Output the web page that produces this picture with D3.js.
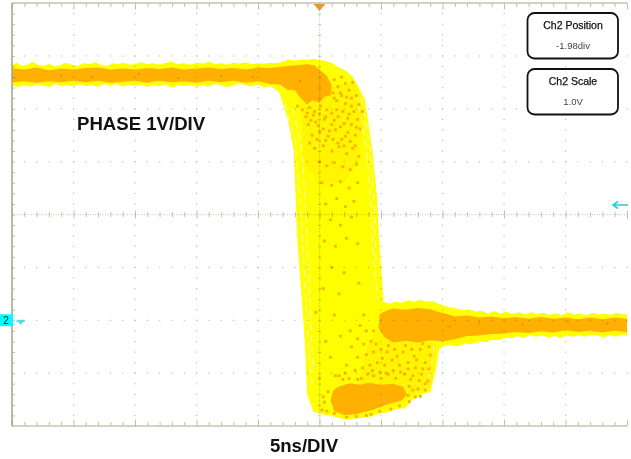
<!DOCTYPE html>
<html>
<head>
<meta charset="utf-8">
<script src="https://cdn.jsdelivr.net/npm/d3@7"></script>
<style>
html, body { margin: 0; padding: 0; background: #fff; }
svg { display: block; }
text { font-family: "Liberation Sans", Arial, sans-serif; }
</style>
</head>
<body>
<div id="scope"></div>
<script>
// time in ns from the trigger, level in volts from the channel 2 ground
const timeDomain = [-25, 25];
const voltDomain = [-2, 6];
const gridTimes = [-20, -15, -10, -5, 0, 5, 10, 15, 20];
const gridVolts = [-1, 0, 1, 2, 3, 4, 5];

// outline of all the captured traces (yellow persistence)
const envelopeUpper = [
  [-25, 4.83], [-24.6, 4.87], [-24.2, 4.81], [-23.7, 4.84], [-23.3, 4.89], [-22.9, 4.83], [-22.4, 4.81], [-22, 4.85], [-21.5, 4.80], [-21, 4.83],
  [-20.6, 4.87], [-20.1, 4.83], [-19.7, 4.81], [-19.2, 4.86], [-18.7, 4.84], [-18.2, 4.88], [-17.8, 4.83], [-17.3, 4.81], [-16.8, 4.86], [-16.4, 4.84],
  [-15.9, 4.87], [-15.4, 4.83], [-15, 4.85], [-14.5, 4.88], [-14, 4.84], [-13.5, 4.86], [-13, 4.83], [-12.5, 4.87], [-12, 4.89], [-11.5, 4.84],
  [-11, 4.86], [-10.5, 4.83], [-10, 4.87], [-9.5, 4.85], [-9, 4.89], [-8.5, 4.84], [-8, 4.86], [-7.5, 4.83], [-7, 4.87], [-6.5, 4.85],
  [-6, 4.88], [-5.5, 4.84], [-5, 4.86], [-4.5, 4.85], [-4, 4.87], [-3.5, 4.86], [-3, 4.89], [-2.5, 4.93], [-2, 4.91], [-1.5, 4.93], [-1, 4.92],
  [-0.5, 4.94], [0, 4.92], [0.5, 4.90], [1, 4.87], [1.5, 4.79], [2.1, 4.73], [2.7, 4.60], [3.2, 4.40], [3.7, 4.17], [4.3, 3.22], [4.7, 2.27], [4.8, 1.71], [5.2, 0.35],
  [5.7, 0.31], [6.2, 0.35], [6.7, 0.33], [7.2, 0.38], [7.7, 0.35], [8.2, 0.39], [8.7, 0.35], [9.2, 0.36], [9.7, 0.31], [10.2, 0.27], [10.7, 0.24], [11.2, 0.22],
  [11.7, 0.19], [12.2, 0.21], [12.7, 0.16], [13.2, 0.18], [13.7, 0.13], [14.2, 0.17], [14.7, 0.13], [15.2, 0.16], [15.7, 0.12], [16.2, 0.15], [16.7, 0.11],
  [17.2, 0.15], [17.7, 0.12], [18.2, 0.14], [18.7, 0.10], [19.2, 0.13], [19.7, 0.10], [20.2, 0.15], [20.7, 0.11], [21.2, 0.13], [21.7, 0.09], [22.2, 0.14],
  [22.7, 0.11], [23.2, 0.13], [23.7, 0.10], [24.2, 0.14], [24.7, 0.11], [25, 0.13]
];
const envelopeLower = [
  [25, -0.30], [24.6, -0.27], [24.1, -0.31], [23.6, -0.28], [23.1, -0.32], [22.6, -0.29], [22.1, -0.27], [21.6, -0.31], [21.1, -0.28], [20.6, -0.31],
  [20.1, -0.29], [19.6, -0.33], [19.1, -0.30], [18.6, -0.32], [18.1, -0.29], [17.6, -0.31], [17.1, -0.28], [16.6, -0.33], [16.1, -0.30], [15.6, -0.34],
  [15.1, -0.33], [14.6, -0.38], [14.1, -0.37], [13.6, -0.41], [13, -0.40], [12.4, -0.45], [11.8, -0.44], [11.2, -0.49], [10.5, -0.47], [10, -0.50], [9.7, -0.56], [9.5, -0.90],
  [9, -1.36], [8.3, -1.40], [7.5, -1.51], [7, -1.66], [6.3, -1.68], [5.5, -1.74], [4.7, -1.78], [4, -1.83], [3, -1.86], [2, -1.87], [1, -1.81], [0, -1.77], [-0.5, -1.73],
  [-1, -1.41], [-1.2, -0.37], [-1.8, 1.52], [-2.1, 3.22], [-2.6, 3.83], [-3.3, 4.32], [-4, 4.43], [-4.5, 4.40], [-5, 4.46], [-5.5, 4.42], [-6, 4.44], [-6.5, 4.48],
  [-7, 4.44], [-7.5, 4.41], [-8, 4.45], [-8.5, 4.47], [-9, 4.42], [-9.5, 4.45], [-10, 4.41], [-10.5, 4.46], [-11, 4.43], [-11.5, 4.45], [-12, 4.40], [-12.5, 4.46],
  [-13, 4.43], [-13.5, 4.46], [-14, 4.41], [-14.5, 4.46], [-15, 4.43], [-15.5, 4.46], [-16, 4.42], [-16.5, 4.47], [-17, 4.44], [-17.5, 4.47], [-18, 4.41],
  [-18.5, 4.45], [-19, 4.43], [-19.5, 4.47], [-20, 4.42], [-20.5, 4.45], [-21, 4.43], [-21.5, 4.47], [-22, 4.41], [-22.5, 4.44], [-23, 4.46], [-23.5, 4.42],
  [-24, 4.45], [-24.5, 4.41], [-25, 4.44]
];

// dense part of the persistence (orange)
const highCore = [
  [-25, 4.76], [-24, 4.74], [-23, 4.78], [-22, 4.73], [-21, 4.76], [-20, 4.74], [-19, 4.77], [-18, 4.78], [-17, 4.74], [-16, 4.76], [-15, 4.74], [-14, 4.77],
  [-13, 4.75], [-12, 4.78], [-11, 4.74], [-10, 4.76], [-9, 4.78], [-8, 4.75], [-7, 4.77], [-6, 4.74], [-5, 4.78], [-4, 4.77], [-3, 4.80], [-2, 4.82], [-1, 4.84], [-0.4, 4.82],
  [0.1, 4.72], [0.6, 4.62], [1, 4.44], [0.9, 4.25], [0.4, 4.22], [0, 4.12], [-0.6, 4.16], [-1, 4.08], [-1.6, 4.22], [-2, 4.35], [-2.6, 4.36], [-3.2, 4.46], [-4, 4.47],
  [-5, 4.52], [-6, 4.49], [-7, 4.53], [-8, 4.50], [-9, 4.53], [-10, 4.49], [-11, 4.52], [-12, 4.50], [-13, 4.53], [-14, 4.49], [-15, 4.53], [-16, 4.51], [-17, 4.49],
  [-18, 4.53], [-19, 4.50], [-20, 4.53], [-21, 4.50], [-22, 4.52], [-23, 4.49], [-24, 4.52], [-25, 4.50]
];
const plateauCore = [
  [4.9, 0.12], [5.4, 0.18], [6, 0.22], [7, 0.20], [8, 0.23], [9, 0.21], [9.6, 0.16], [10.2, 0.13], [11, 0.07], [12, 0.09], [13, 0.05], [14, 0.07], [15, 0.04], [16, 0.06], [17, 0.03],
  [18, 0.06], [19, 0.03], [20, 0.05], [21, 0.02], [22, 0.05], [23, 0.02], [24, 0.05], [25, 0.03],
  [25, -0.22], [24, -0.20], [23, -0.23], [22, -0.20], [21, -0.22], [20, -0.19], [19, -0.23], [18, -0.21], [17, -0.24], [16, -0.22], [15, -0.25], [14, -0.26], [13, -0.29], [12, -0.30],
  [11, -0.36], [10, -0.40], [9, -0.38], [8, -0.42], [7, -0.39], [6, -0.42], [5.3, -0.32], [4.8, -0.15]
];
const lowCore = [
  [1.1, -1.33], [1.6, -1.25], [2.5, -1.19], [3.3, -1.22], [4, -1.18], [5, -1.22], [6, -1.20], [6.8, -1.26], [7.1, -1.40], [6.7, -1.52], [5.7, -1.58], [5, -1.64], [4.2, -1.70], [3, -1.78],
  [2, -1.79], [1.2, -1.72], [0.9, -1.52]
];
const midHaze = [
  [4.7, -0.2], [9.5, -0.45], [9.1, -1.25], [7, -1.5], [6.5, -1.2], [3.2, -1.2], [4, -0.4]
];
const fallHaze = [
  [-1.6, 4.3], [0, 4.4], [3, 4.5], [3.6, 3.9], [3.2, 3.0], [2, 2.6], [0, 2.6], [-1.3, 3.0]
];

// streaks of white left between single traces on the falling edge
const traceA = [[-2.8, 4.1], [-2.0, 3.4], [-1.5, 2.0], [-1.2, 0.8], [-0.9, -0.5], [-0.6, -1.2]];
const traceB = [[-2.2, 4.0], [-1.4, 3.2], [-1.05, 1.8], [-0.8, 0.4], [-0.5, -1.0]];
const traceC = [[3.0, 4.3], [3.8, 3.3], [4.15, 2.3], [4.35, 1.2], [4.75, 0.4]];
const traceD = [[3.4, 4.2], [4.15, 3.2], [4.5, 2.0], [4.6, 1.0]];
const traceE = [[9.3, -0.5], [9.1, -0.9], [8.6, -1.3]];

// single orange hits
const hitsFall = [
  [-1.3, 4.2], [-0.8, 4.02], [-0.4, 3.95], [0.1, 4.05], [0.6, 3.98], [1.2, 4.2], [1.7, 4.3], [2.1, 4.1], [2.6, 4.2], [3.0, 4.25],
  [-0.9, 3.7], [-0.3, 3.75], [0.4, 3.8], [1, 3.7], [1.5, 3.85], [2, 3.72], [2.4, 3.9], [3.1, 3.8], [3.5, 3.95], [-0.6, 3.5],
  [0, 3.55], [0.7, 3.48], [1.3, 3.6], [1.8, 3.42], [2.3, 3.55], [2.9, 3.5], [3.3, 3.62], [-0.4, 3.25], [0.3, 3.3], [1, 3.2],
  [1.6, 3.28], [2.2, 3.15], [2.7, 3.25], [3.2, 3.1], [0, 3.0], [0.6, 2.92], [1.2, 2.98], [1.9, 2.9], [2.5, 2.85], [3, 2.95],
  [0.2, 2.6], [1, 2.55], [1.7, 2.62], [2.4, 2.5], [3.1, 2.6], [0.5, 2.2], [1.4, 2.3], [2.1, 2.15], [2.8, 2.25], [0.9, 1.9],
  [1.7, 1.8], [2.6, 1.95], [0.4, 1.5], [1.3, 1.4], [2.2, 1.55], [3.1, 1.45], [1, 1.0], [2, 0.9], [0.3, 0.6], [1.6, 0.5], [3.2, 0.7]
];
const hitsBulge = [
  [1.2, 4.55], [1.5, 4.42], [1.8, 4.6], [2.1, 4.48], [2.4, 4.35], [2.7, 4.5], [1.1, 4.3], [1.4, 4.15], [1.8, 4.25], [2.2, 4.22], [2.6, 4.05],
  [-1.8, 4.05], [-1.4, 3.98], [-1, 3.92], [-0.5, 3.88], [0, 3.9], [0.5, 3.85], [1, 3.92], [1.4, 3.98], [1.9, 3.95], [2.3, 3.82], [2.8, 3.95],
  [3.2, 4.08], [-1.1, 3.85], [-0.7, 3.78], [-0.1, 3.68], [0.3, 3.62], [0.8, 3.58], [1.2, 3.78], [1.7, 3.66], [2.1, 3.48], [2.6, 3.7], [3, 3.65],
  [-0.8, 3.35], [-0.2, 3.42], [0.5, 3.4], [1.1, 3.42], [1.5, 3.35], [2, 3.3], [2.5, 3.38], [2.9, 3.3]
];
const hitsLow = [
  [3.6, 0.1], [3.3, -0.1], [3.8, -0.2], [3.1, -0.35], [3.6, -0.45], [4.2, -0.4], [2.6, -0.5], [3.1, -0.7], [3.8, -0.65], [4.4, -0.6],
  [5, -0.55], [5.5, -0.6], [6.1, -0.55], [6.8, -0.6], [7.5, -0.55], [8.2, -0.55], [8.9, -0.5], [2.2, -0.85], [2.9, -0.95], [3.5, -0.9],
  [4.1, -0.85], [4.7, -0.8], [5.3, -0.85], [5.9, -0.75], [6.5, -0.85], [7.2, -0.8], [7.9, -0.75], [8.6, -0.8], [1.6, -1.05], [2.4, -1.1],
  [3.4, -1.1], [4.4, -1.05], [5.0, -1.1], [5.6, -1.02], [6.2, -1.1], [6.9, -1.02], [7.6, -1.05], [8.3, -1.02], [8.8, -1.15], [7.3, -1.25],
  [8, -1.3], [8.6, -1.32], [7.2, -1.42], [7.8, -1.45], [0.4, -1.55], [0.7, -1.35], [0.2, -1.7], [1.3, -1.05], [0.9, -0.7], [1.7, -0.3],
  [2.5, -0.2], [1.2, 0.1], [0, -1.1], [0.5, -0.4], [-0.3, 0.15],
  [4.4, -0.2], [4.6, -0.45], [5.1, -0.72], [5.6, -0.48], [6.3, -0.68], [7, -0.48], [7.7, -0.68], [8.4, -0.44], [9.0, -0.66], [4.3, -0.95],
  [4.9, -0.98], [5.4, -1.0], [6, -0.95], [6.6, -0.98], [7.2, -0.92], [7.8, -0.9], [8.4, -0.92], [8.9, -0.92], [3.9, -1.02], [3.1, -1.12],
  [7.4, -1.12], [8.1, -1.14], [8.6, -1.2], [7.6, -1.32], [8.2, -1.44], [7.3, -1.54], [6.5, -1.62], [5.8, -1.68], [4.9, -1.72], [4.2, -1.78],
  [1.9, -1.12], [2.1, -1.0], [0.6, -1.72], [0.3, -1.45], [3, -1.82], [2.2, -1.83], [1.2, -1.76], [3.8, -1.8]
];
const hotHits = [
  [-21, 4.63], [-18.5, 4.60], [-14.7, 4.66], [-11.5, 4.58], [-8, 4.62], [-5.4, 4.6], [-1.6, 4.52], [10.6, -0.12], [13, -0.05], [16.5, -0.08], [20.2, -0.03], [23.4, -0.06]
];

const width = 631;
const height = 459;
const plot = { left: 12, right: 627, top: 3, bottom: 426 };

const x = d3.scaleLinear().domain(timeDomain).range([plot.left, plot.right]);
const y = d3.scaleLinear().domain(voltDomain).range([plot.bottom, plot.top]);

const svg = d3.select('#scope').append('svg')
  .attr('width', width)
  .attr('height', height);

const defs = svg.append('defs');
defs.append('filter').attr('id', 'soft').append('feGaussianBlur').attr('stdDeviation', 0.3);

const wave = svg.append('g').attr('filter', 'url(#soft)');
const toPath = d3.line().x(d => x(d[0])).y(d => y(d[1]));
const closed = (pts) => toPath(pts) + 'Z';

const YELLOW = '#ffff00';
const ORANGE = '#ffb000';

wave.append('path').attr('d', closed(envelopeUpper.concat(envelopeLower))).attr('fill', YELLOW);

wave.selectAll('.trace')
  .data([traceA, traceB, traceC, traceD, traceE])
  .enter().append('path')
  .attr('class', 'trace')
  .attr('d', toPath)
  .attr('fill', 'none')
  .attr('stroke', '#ffffd8')
  .attr('stroke-width', 0.9)
  .attr('stroke-dasharray', '7 5');

wave.selectAll('.haze')
  .data([fallHaze, midHaze])
  .enter().append('path')
  .attr('class', 'haze')
  .attr('d', closed)
  .attr('fill', ORANGE)
  .attr('opacity', 0.12);

wave.selectAll('.hit')
  .data(hitsFall.concat(hitsBulge, hitsLow))
  .enter().append('rect')
  .attr('class', 'hit')
  .attr('x', d => x(d[0]) - 1.4)
  .attr('y', d => y(d[1]) - 1.4)
  .attr('width', 2.8)
  .attr('height', 2.8)
  .attr('fill', ORANGE);

wave.selectAll('.core')
  .data([highCore, plateauCore, lowCore])
  .enter().append('path')
  .attr('class', 'core')
  .attr('d', closed)
  .attr('fill', ORANGE);

wave.selectAll('.hot')
  .data(hotHits)
  .enter().append('rect')
  .attr('class', 'hot')
  .attr('x', d => x(d[0]) - 0.8)
  .attr('y', d => y(d[1]) - 0.8)
  .attr('width', 1.6)
  .attr('height', 1.6)
  .attr('fill', '#e87818');

// graticule, multiplied so it shows faintly through the yellow
const grid = svg.append('g').style('mix-blend-mode', 'multiply');
const GRID = '#bfbfab';

const minorT = d3.range(timeDomain[0], timeDomain[1] + 1);
const fineT = d3.range(timeDomain[0], timeDomain[1] + 0.01, 0.2);
const minorV = d3.range(voltDomain[0], voltDomain[1] + 0.01, 0.2);
const fineV = d3.range(voltDomain[0], voltDomain[1] + 0.01, 0.04);

gridTimes.forEach(t => {
  grid.selectAll(null).data(t === 0 ? fineV : minorV).enter().append('rect')
    .attr('x', x(t) - 0.5)
    .attr('y', d => y(d) - 0.5)
    .attr('width', 1.2)
    .attr('height', t === 0 ? 0.7 : 1.2)
    .attr('fill', GRID);
});
gridVolts.forEach(v => {
  grid.selectAll(null).data(v === 2 ? fineT : minorT).enter().append('rect')
    .attr('x', d => x(d) - 0.5)
    .attr('y', y(v) - 0.5)
    .attr('width', v === 2 ? 0.8 : 1.2)
    .attr('height', 1.2)
    .attr('fill', GRID);
});

const blank = () => '';
const isMajor = (t) => t % 5 === 0;

function tickAxis(axis, major) {
  return (sel) => {
    sel.call(axis.tickFormat(blank));
    sel.select('.domain').remove();
    sel.selectAll('line')
      .attr('stroke', GRID)
      .attr('stroke-width', 1)
      .each(function (d) {
        if (major && major(d)) {
          const el = d3.select(this);
          if (el.attr('y2') !== null && +el.attr('y2') !== 0) el.attr('y2', +el.attr('y2') * 1.6);
        }
      });
  };
}

grid.append('g').attr('transform', `translate(0,${plot.top})`)
  .call(tickAxis(d3.axisBottom(x).tickValues(minorT).tickSize(4), isMajor));
grid.append('g').attr('transform', `translate(0,${plot.bottom})`)
  .call(tickAxis(d3.axisTop(x).tickValues(minorT).tickSize(4), isMajor));
grid.append('g').attr('transform', `translate(${plot.left},0)`)
  .call(tickAxis(d3.axisRight(y).tickValues(minorV).tickSize(3)));
grid.append('g').attr('transform', `translate(${x(0)},0)`)
  .call(tickAxis(d3.axisRight(y).tickValues(minorV).tickSizeInner(1.5).tickSizeOuter(0)));
grid.append('g').attr('transform', `translate(${x(0)},0)`)
  .call(tickAxis(d3.axisLeft(y).tickValues(minorV).tickSizeInner(1.5).tickSizeOuter(0)));
grid.append('g').attr('transform', `translate(0,${y(2)})`)
  .call(tickAxis(d3.axisBottom(x).tickValues(minorT).tickSize(2.5), isMajor));
grid.append('g').attr('transform', `translate(0,${y(2)})`)
  .call(tickAxis(d3.axisTop(x).tickValues(minorT).tickSize(2.5), isMajor));

// frame
const frame = svg.append('g').attr('stroke', '#c4c4b0').attr('stroke-width', 1.6).attr('fill', 'none');
frame.append('path').attr('d', `M${plot.left},${plot.top}H${plot.right}`);
frame.append('path').attr('d', `M${plot.left},${plot.bottom}H${plot.right}`);
frame.append('path').attr('d', `M${plot.left},${plot.top}V${plot.bottom}`).attr('stroke', '#a8a890');

// markers
svg.append('path')
  .attr('d', `M${x(0) - 6},${plot.top + 1}H${x(0) + 6}L${x(0)},${plot.top + 8}Z`)
  .attr('fill', '#e8963c');

svg.append('rect').attr('x', 0).attr('y', y(0) - 6).attr('width', 13).attr('height', 12).attr('fill', '#00ffff');
svg.append('text').attr('x', 6).attr('y', y(0) + 3.5).attr('text-anchor', 'middle')
  .attr('font-size', 10).attr('fill', '#222').text('2');
svg.append('path')
  .attr('d', `M16,${y(0) + 1}H25M20.5,${y(0) + 1}V${y(0) + 4}M17.5,${y(0)}H24L20.5,${y(0) + 4}Z`)
  .attr('stroke', '#54d8dc').attr('stroke-width', 1).attr('fill', '#54d8dc');

svg.append('path')
  .attr('d', `M${plot.right + 1},205H614M618,201.5L613,205L618,208.5`)
  .attr('stroke', '#2ad0d4').attr('stroke-width', 1.6).attr('fill', 'none');

// readouts
const readouts = [
  { title: 'Ch2 Position', value: '-1.98div', top: 13 },
  { title: 'Ch2 Scale', value: '1.0V', top: 69 }
];
const box = svg.selectAll('.readout').data(readouts).enter().append('g')
  .attr('class', 'readout')
  .attr('transform', d => `translate(527.5,${d.top})`);
box.append('rect')
  .attr('width', 90.5).attr('height', 45.5).attr('rx', 7)
  .attr('fill', '#fff').attr('stroke', '#111').attr('stroke-width', 1.8);
box.append('text').attr('x', 45.5).attr('y', 15.5).attr('text-anchor', 'middle')
  .attr('font-size', 10.5).attr('fill', '#111').attr('stroke', '#111').attr('stroke-width', 0.25)
  .text(d => d.title);
box.append('text').attr('x', 45.5).attr('y', 36).attr('text-anchor', 'middle')
  .attr('font-size', 9.5).attr('fill', '#444')
  .text(d => d.value);

svg.append('text').attr('x', 77).attr('y', 130)
  .attr('font-size', 18.6).attr('font-weight', 700).attr('fill', '#111').text('PHASE 1V/DIV');
svg.append('text').attr('x', 304).attr('y', 452).attr('text-anchor', 'middle')
  .attr('font-size', 18.6).attr('font-weight', 700).attr('fill', '#111').text('5ns/DIV');
</script>
</body>
</html>
